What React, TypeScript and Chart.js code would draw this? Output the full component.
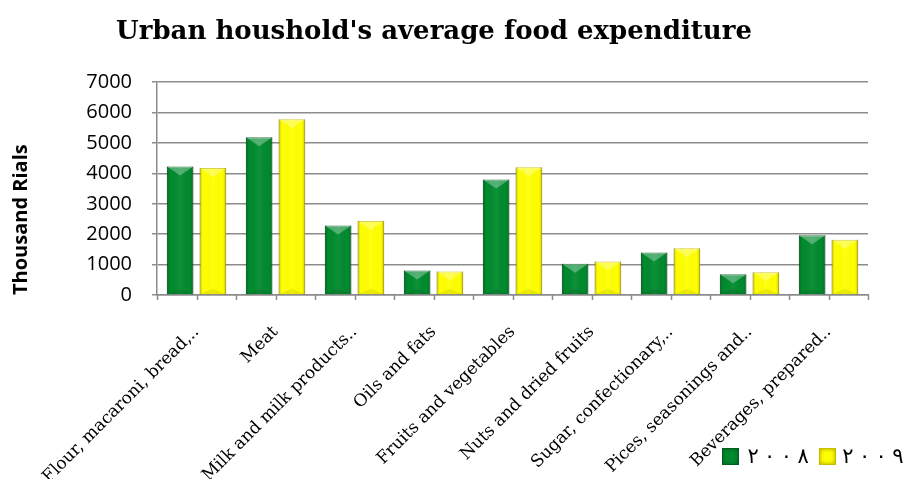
import React, { useEffect, useRef } from "react";
import { Chart, registerables } from "chart.js";

Chart.register(...registerables);

const categories = [
  "Flour, macaroni, bread,..",
  "Meat",
  "Milk and milk products..",
  "Oils and fats",
  "Fruits and vegetables",
  "Nuts and dried fruits",
  "Sugar, confectionary,..",
  "Pices, seasonings and..",
  "Beverages, prepared..",
];
const values2008 = [4230, 5190, 2285, 810, 3800, 1030, 1395, 680, 1965];
const values2009 = [4175, 5780, 2435, 775, 4200, 1105, 1535, 745, 1820];
const seriesLabels = ["٢٠٠٨", "٢٠٠٩"];
const yMin = 0;
const yMax = 7000;
const yStep = 1000;
const chartTitle = "Urban houshold's average food expenditure";
const yTitle = "Thousand Rials";

const GREEN = "#008a2e";
const GREEN_DARK = "#005c1d";
const YELLOW = "#ffff00";
const YELLOW_DARK = "#c9bd00";

const bevelPlugin = {
  id: "bevel",
  afterDatasetsDraw(chart: any) {
    const ctx = chart.ctx;
    chart.data.datasets.forEach((ds: any, di: number) => {
      const meta = chart.getDatasetMeta(di);
      meta.data.forEach((bar: any) => {
        const { x, y, base, width } = bar.getProps(["x", "y", "base", "width"], true);
        const l = x - width / 2;
        const r = x + width / 2;
        const t = y;
        const b = base;
        const h = b - t;
        const bw = Math.min(9, h / 2);
        ctx.save();
        const g = ctx.createLinearGradient(l, 0, r, 0);
        g.addColorStop(0, "rgba(0,0,0,0.22)");
        g.addColorStop(0.12, "rgba(0,0,0,0)");
        g.addColorStop(0.5, "rgba(255,255,255,0.06)");
        g.addColorStop(0.88, "rgba(0,0,0,0)");
        g.addColorStop(1, "rgba(0,0,0,0.22)");
        ctx.fillStyle = g;
        ctx.fillRect(l, t, width, h);
        ctx.beginPath();
        ctx.moveTo(l, t);
        ctx.lineTo(r, t);
        ctx.lineTo(x, t + bw);
        ctx.closePath();
        ctx.fillStyle = "rgba(255,255,255,0.3)";
        ctx.fill();
        ctx.beginPath();
        ctx.moveTo(l, b);
        ctx.lineTo(r, b);
        ctx.lineTo(x, b - bw * 0.6);
        ctx.closePath();
        ctx.fillStyle = "rgba(0,0,0,0.08)";
        ctx.fill();
        ctx.restore();
      });
    });
  },
};

const halfTicksPlugin = {
  id: "halfTicks",
  afterDraw(chart: any) {
    const xs = chart.scales.x;
    const ctx = chart.ctx;
    const n = categories.length * 2;
    const step = (xs.right - xs.left) / n;
    ctx.save();
    ctx.strokeStyle = "#8c8c8c";
    ctx.lineWidth = 1.5;
    for (let k = 0; k <= n; k++) {
      const px = Math.round(xs.left + k * step) + 0.5;
      ctx.beginPath();
      ctx.moveTo(px, xs.top);
      ctx.lineTo(px, xs.top + 5);
      ctx.stroke();
    }
    ctx.restore();
  },
};

export default function App() {
  const ref = useRef<HTMLCanvasElement>(null);
  useEffect(() => {
    document.body.style.margin = "0";
    const chart = new Chart(ref.current as HTMLCanvasElement, {
      type: "bar",
      data: {
        labels: categories,
        datasets: [
          {
            label: seriesLabels[0],
            data: values2008,
            backgroundColor: GREEN,
            borderColor: GREEN_DARK,
            borderWidth: 1,
          },
          {
            label: seriesLabels[1],
            data: values2009,
            backgroundColor: YELLOW,
            borderColor: YELLOW_DARK,
            borderWidth: 1,
          },
        ],
      },
      options: {
        animation: false,
        responsive: true,
        maintainAspectRatio: false,
        datasets: { bar: { categoryPercentage: 0.83, barPercentage: 0.81 } },
        layout: { padding: { left: 0, right: 36, top: 0, bottom: 0 } },
        plugins: {
          legend: { display: false },
          tooltip: { enabled: false },
          title: {
            display: true,
            text: chartTitle,
            color: "#000",
            font: { family: "'DejaVu Serif'", size: 26, weight: "bold" },
            padding: { top: 17, bottom: 34 },
          },
        },
        scales: {
          x: {
            grid: { display: true, drawOnChartArea: false, drawTicks: false, color: "#8c8c8c" },
            border: { display: true, color: "#8c8c8c", width: 1.5 },
            afterFit: (s: any) => {
              s.height = 184;
            },
            ticks: {
              autoSkip: false,
              maxRotation: 45,
              minRotation: 45,
              padding: 27,
              labelOffset: 0,
              color: "#000",
              font: { family: "'DejaVu Serif'", size: 17 },
            },
          },
          y: {
            min: yMin,
            max: yMax,
            afterFit: (s: any) => {
              s.width = 157;
            },
            grid: { color: "#8c8c8c", lineWidth: 1.5, tickLength: 5 },
            border: { display: true, color: "#8c8c8c", width: 1.5 },
            ticks: {
              stepSize: yStep,
              padding: 20,
              color: "#000",
              font: { family: "'Open Sans'", size: 20 },
              callback: (v: any) => String(v),
            },
            title: {
              display: true,
              text: yTitle,
              align: "start",
              color: "#000",
              font: { family: "'Open Sans'", size: 20, weight: "bold" },
              padding: { top: 9, bottom: 0 },
            },
          },
        },
      },
      plugins: [bevelPlugin, halfTicksPlugin],
    } as any);
    return () => chart.destroy();
  }, []);

  const box = (c: string, d: string) => ({
    display: "inline-block",
    width: 17,
    height: 17,
    flex: "none",
    background: c,
    border: `1px solid ${d}`,
    boxSizing: "border-box" as const,
    boxShadow: "inset 0 0 4px rgba(0,0,0,0.35)",
  });

  const digits = (s: string) => (
    <span style={{ display: "inline-flex", direction: "ltr" }}>
      {Array.from(s).map((ch, i) => (
        <span key={i} style={{ display: "inline-block", width: 16.7, textAlign: "center", flex: "none" }}>
          {ch}
        </span>
      ))}
    </span>
  );

  return (
    <div style={{ position: "absolute", left: 0, top: 0, width: 904, height: 479, overflow: "hidden" }}>
      <canvas ref={ref} />
      <div
        style={{
          position: "absolute",
          left: 722,
          top: 446,
          display: "flex",
          alignItems: "center",
          whiteSpace: "nowrap",
          fontFamily: "'DejaVu Sans'",
          fontSize: 21,
          lineHeight: "20px",
          color: "#000",
        }}
      >
        <span style={box(GREEN, GREEN_DARK)} />
        <span style={{ marginLeft: 5.7, display: "inline-block", flex: "none" }}>{digits(seriesLabels[0])}</span>
        <span style={{ ...box(YELLOW, YELLOW_DARK), marginLeft: 7.5 }} />
        <span style={{ marginLeft: 3.6, display: "inline-block", flex: "none" }}>{digits(seriesLabels[1])}</span>
      </div>
    </div>
  );
}
